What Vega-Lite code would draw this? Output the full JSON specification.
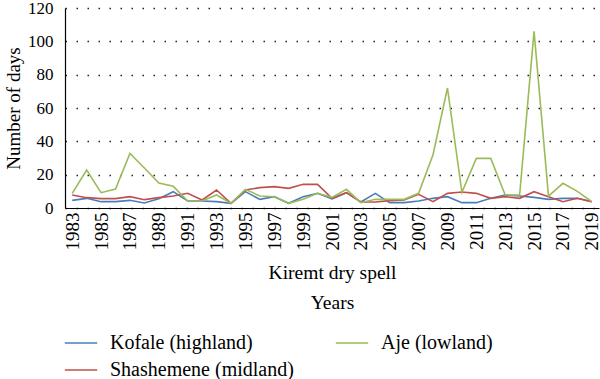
{
  "$schema": "https://vega.github.io/schema/vega-lite/v6.json",
  "autosize": "none",
  "padding": {"left": 65, "top": 8, "right": 1, "bottom": 171},
  "width": 534,
  "height": 200,
  "background": "white",
  "config": {
    "font": "Liberation Serif",
    "view": {"stroke": null}
  },
  "datasets": {
    "series": [
      {"year": "1983", "Kofale (highland)": 4.6, "Shashemene (midland)": 7.8, "Aje (lowland)": 8.8},
      {"year": "1984", "Kofale (highland)": 5.8, "Shashemene (midland)": 6.2, "Aje (lowland)": 22.8},
      {"year": "1985", "Kofale (highland)": 3.8, "Shashemene (midland)": 5.6, "Aje (lowland)": 9.2},
      {"year": "1986", "Kofale (highland)": 3.8, "Shashemene (midland)": 5.6, "Aje (lowland)": 11.4},
      {"year": "1987", "Kofale (highland)": 4.6, "Shashemene (midland)": 6.8, "Aje (lowland)": 32.8},
      {"year": "1988", "Kofale (highland)": 3.0, "Shashemene (midland)": 5.0, "Aje (lowland)": 24},
      {"year": "1989", "Kofale (highland)": 5.6, "Shashemene (midland)": 6.2, "Aje (lowland)": 15},
      {"year": "1990", "Kofale (highland)": 9.8, "Shashemene (midland)": 7.2, "Aje (lowland)": 13},
      {"year": "1991", "Kofale (highland)": 4.2, "Shashemene (midland)": 8.8, "Aje (lowland)": 4.2},
      {"year": "1992", "Kofale (highland)": 4.2, "Shashemene (midland)": 4.8, "Aje (lowland)": 4.2},
      {"year": "1993", "Kofale (highland)": 3.8, "Shashemene (midland)": 10.8, "Aje (lowland)": 7.8},
      {"year": "1994", "Kofale (highland)": 2.8, "Shashemene (midland)": 2.8, "Aje (lowland)": 2.8},
      {"year": "1995", "Kofale (highland)": 9.8, "Shashemene (midland)": 10.8, "Aje (lowland)": 11.2},
      {"year": "1996", "Kofale (highland)": 5.2, "Shashemene (midland)": 12.2, "Aje (lowland)": 7.2},
      {"year": "1997", "Kofale (highland)": 6.8, "Shashemene (midland)": 12.8, "Aje (lowland)": 6.8},
      {"year": "1998", "Kofale (highland)": 2.8, "Shashemene (midland)": 11.8, "Aje (lowland)": 2.8},
      {"year": "1999", "Kofale (highland)": 6.8, "Shashemene (midland)": 14.2, "Aje (lowland)": 5.2},
      {"year": "2000", "Kofale (highland)": 8.8, "Shashemene (midland)": 14.2, "Aje (lowland)": 8.8},
      {"year": "2001", "Kofale (highland)": 5.4, "Shashemene (midland)": 5.8, "Aje (lowland)": 6.4},
      {"year": "2002", "Kofale (highland)": 9.2, "Shashemene (midland)": 9.2, "Aje (lowland)": 11.2},
      {"year": "2003", "Kofale (highland)": 3.6, "Shashemene (midland)": 3.6, "Aje (lowland)": 3.2},
      {"year": "2004", "Kofale (highland)": 8.8, "Shashemene (midland)": 3.6, "Aje (lowland)": 5.2},
      {"year": "2005", "Kofale (highland)": 3.2, "Shashemene (midland)": 4.4, "Aje (lowland)": 5.2},
      {"year": "2006", "Kofale (highland)": 3.2, "Shashemene (midland)": 4.8, "Aje (lowland)": 5.2},
      {"year": "2007", "Kofale (highland)": 4.2, "Shashemene (midland)": 8.2, "Aje (lowland)": 8.8},
      {"year": "2008", "Kofale (highland)": 5.8, "Shashemene (midland)": 3.8, "Aje (lowland)": 32},
      {"year": "2009", "Kofale (highland)": 6.8, "Shashemene (midland)": 8.8, "Aje (lowland)": 72},
      {"year": "2010", "Kofale (highland)": 3.2, "Shashemene (midland)": 9.6, "Aje (lowland)": 9.4},
      {"year": "2011", "Kofale (highland)": 3.2, "Shashemene (midland)": 8.8, "Aje (lowland)": 29.8},
      {"year": "2012", "Kofale (highland)": 5.8, "Shashemene (midland)": 5.8, "Aje (lowland)": 29.8},
      {"year": "2013", "Kofale (highland)": 7.8, "Shashemene (midland)": 6.8, "Aje (lowland)": 7.8},
      {"year": "2014", "Kofale (highland)": 7.2, "Shashemene (midland)": 5.8, "Aje (lowland)": 7.8},
      {"year": "2015", "Kofale (highland)": 6.4, "Shashemene (midland)": 9.8, "Aje (lowland)": 106},
      {"year": "2016", "Kofale (highland)": 5.2, "Shashemene (midland)": 6.8, "Aje (lowland)": 7.2},
      {"year": "2017", "Kofale (highland)": 5.8, "Shashemene (midland)": 3.8, "Aje (lowland)": 14.8},
      {"year": "2018", "Kofale (highland)": 5.8, "Shashemene (midland)": 5.8, "Aje (lowland)": 10},
      {"year": "2019", "Kofale (highland)": 3.8, "Shashemene (midland)": 3.8, "Aje (lowland)": 3.8}
    ]
  },
  "data": {"name": "series"},
  "transform": [
    {"fold": ["Kofale (highland)", "Shashemene (midland)", "Aje (lowland)"], "as": ["site", "days"]}
  ],
  "mark": {"type": "line", "strokeWidth": 1.6},
  "encoding": {
    "x": {
      "field": "year",
      "type": "ordinal",
      "scale": {"type": "point", "padding": 0.5},
      "axis": {
        "values": ["1983","1985","1987","1989","1991","1993","1995","1997","1999","2001","2003","2005","2007","2009","2011","2013","2015","2017","2019"],
        "labelAngle": -90,
        "labelFont": "Liberation Serif",
        "labelFontSize": 19,
        "labelColor": "black",
        "labelPadding": 4,
        "ticks": false,
        "domainColor": "black",
        "domainWidth": 1.2,
        "title": ["Kiremt dry spell", "Years"],
        "titleFont": "Liberation Serif",
        "titleFontSize": 19.5,
        "titleFontWeight": "normal",
        "titleColor": "black",
        "titleLineHeight": 30,
        "titlePadding": 13
      }
    },
    "y": {
      "field": "days",
      "type": "quantitative",
      "scale": {"domain": [0, 120], "nice": false},
      "axis": {
        "values": [0, 20, 40, 60, 80, 100, 120],
        "labelFont": "Liberation Serif",
        "labelFontSize": 17,
        "labelColor": "black",
        "labelPadding": 12,
        "ticks": false,
        "domainColor": "black",
        "domainWidth": 1.2,
        "grid": true,
        "gridColor": "#222",
        "gridDash": [1.5, 9.5],
        "gridWidth": 1.3,
        "title": "Number of days",
        "titleFont": "Liberation Serif",
        "titleFontSize": 19,
        "titleFontWeight": "normal",
        "titleColor": "black",
        "titlePadding": 4
      }
    },
    "color": {
      "field": "site",
      "type": "nominal",
      "scale": {
        "domain": ["Kofale (highland)", "Shashemene (midland)", "Aje (lowland)"],
        "range": ["#4a7ebb", "#c0504d", "#9bbb59"]
      },
      "legend": {
        "title": null,
        "orient": "none",
        "legendX": -1,
        "legendY": 318,
        "columns": 2,
        "columnPadding": 38,
        "rowPadding": 0,
        "symbolType": "stroke",
        "symbolSize": 1050,
        "symbolStrokeWidth": 1.5,
        "labelFont": "Liberation Serif",
        "labelFontSize": 20,
        "labelColor": "black",
        "labelOffset": 12,
        "labelLimit": 400
      }
    }
  }
}
